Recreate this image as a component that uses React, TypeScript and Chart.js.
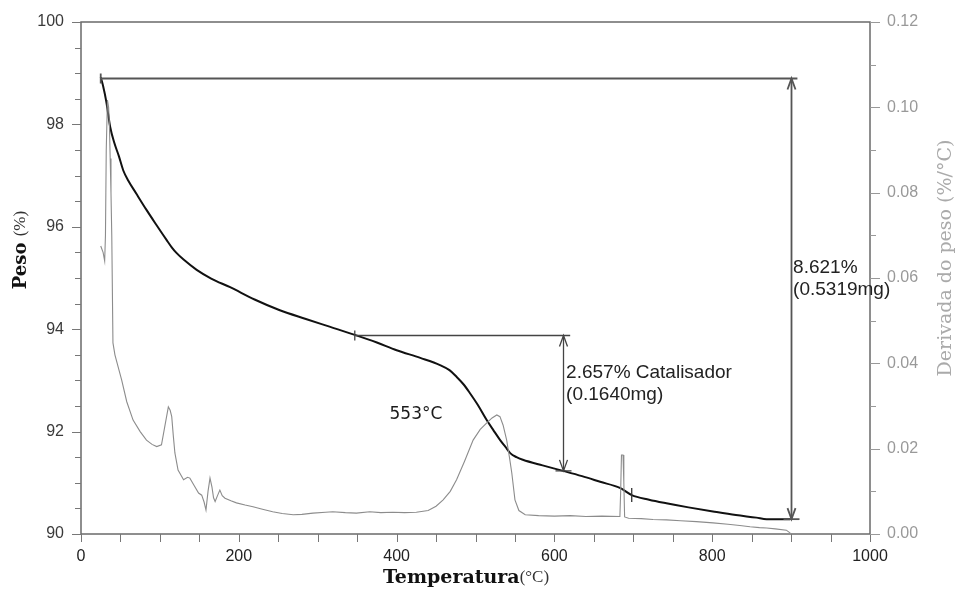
import { useEffect, useRef } from "react";
import { Chart, registerables } from "chart.js";

Chart.register(...registerables);

// Curva termogravimétrica (peso %, eixo esquerdo)
const temperaturaTG = [
  25, 28, 32, 37, 42, 48, 53.6, 60, 70, 83, 95, 108.6, 115, 121, 130, 146.6, 165, 189, 220, 252,
  285, 315, 347, 375, 400, 430, 455, 467, 476, 485, 493, 503, 514, 523, 531, 538, 544, 552, 560,
  585, 611, 635, 658, 683, 698, 720, 742, 770, 801, 830, 856, 869, 899,
];
const pesoTG = [
  98.92, 98.75, 98.45, 97.95, 97.65, 97.38, 97.1, 96.9, 96.65, 96.33, 96.05, 95.74, 95.6, 95.49,
  95.36, 95.16, 94.99, 94.82, 94.58, 94.37, 94.2, 94.05, 93.89, 93.74, 93.59, 93.44, 93.3, 93.2,
  93.07, 92.92, 92.75, 92.52, 92.23, 92.02, 91.84, 91.7, 91.58, 91.5, 91.45, 91.34, 91.233, 91.13,
  91.02, 90.9, 90.76, 90.67, 90.6, 90.52, 90.44, 90.37, 90.32, 90.29, 90.29,
];

// Derivada do peso (%/°C, eixo direito)
const temperaturaDTG = [
  25, 28, 30, 31, 32, 33.5, 35, 36, 37, 38, 39, 40.5, 43, 48, 51.5, 58, 66, 75, 83, 90, 96, 102,
  106, 110.7, 113, 115, 117, 119, 123, 130, 135, 138, 143, 149, 153, 156, 158.4, 161, 163.5, 166,
  168, 170, 173, 176, 179, 182.5, 190, 197, 208, 218, 230, 243, 255, 269, 280, 294, 310, 319, 335,
  349, 366, 380, 395, 410, 425, 440, 450, 459, 468, 476, 486, 497, 506, 514, 521, 527, 531, 535,
  539.5, 543, 546, 550, 555, 563, 580, 600, 620, 640, 660, 683, 684, 685, 687, 688, 689, 694, 710,
  725, 742, 760, 780, 801, 820, 835, 848, 860, 869, 880, 894, 899,
];
const derivadaDTG = [
  0.0675, 0.066, 0.064, 0.07, 0.09, 0.1017, 0.1, 0.096, 0.088, 0.08, 0.07, 0.0448, 0.042, 0.0385,
  0.0361, 0.031, 0.0267, 0.024, 0.022, 0.021, 0.0205, 0.0209, 0.025, 0.0298, 0.029, 0.0275, 0.023,
  0.019, 0.015, 0.0127, 0.0133, 0.0131, 0.0115, 0.0096, 0.0091, 0.0075, 0.0056, 0.01, 0.0131,
  0.011, 0.0085, 0.0076, 0.009, 0.0103, 0.009, 0.0084, 0.0078, 0.0073, 0.0068, 0.0064, 0.0058,
  0.0052, 0.0048, 0.0045, 0.0046, 0.0049, 0.0051, 0.0052, 0.005, 0.0049, 0.0052, 0.005, 0.0051,
  0.005, 0.0051, 0.0055, 0.0065, 0.008, 0.01, 0.0127, 0.017, 0.022, 0.0245, 0.026, 0.0272, 0.0279,
  0.0275, 0.0255, 0.022, 0.018, 0.0143, 0.008, 0.0055, 0.0045, 0.0043, 0.0042, 0.0043, 0.0041,
  0.0042, 0.0041, 0.01, 0.0185, 0.0185, 0.012, 0.004, 0.0037, 0.0036, 0.0034, 0.0033, 0.0031,
  0.0029, 0.0026, 0.0023, 0.002, 0.0017, 0.0015, 0.0014, 0.0012, 0.0009, 0.0002,
];

// Medidas de perda de massa: base horizontal, seta vertical, fim da base
const perdaTotal = { inicioT: 25, setaT: 900, fimT: 908, topo: 98.911, base: 90.29 };
const perdaCatalisador = { inicioT: 347, setaT: 611, fimT: 620, topo: 93.89, base: 91.233 };
const marcadorT = [698];
const marcadorPeso = [90.76];

const rotuloTotal = ["8.621%", "(0.5319mg)"];
const rotuloCatalisador = ["2.657% Catalisador", "(0.1640mg)"];
const rotuloPico = "553°C";

const SANS = '"Liberation Sans", Arial, sans-serif';
const SERIF = '"DejaVu Serif", "Liberation Serif", serif';

function drawParts(
  ctx: CanvasRenderingContext2D,
  parts: { text: string; font: string; color: string }[],
  cx: number,
  cy: number
) {
  let total = 0;
  const widths = parts.map((p) => {
    ctx.font = p.font;
    const w = ctx.measureText(p.text).width;
    total += w;
    return w;
  });
  let x = cx - total / 2;
  ctx.textBaseline = "middle";
  ctx.textAlign = "left";
  parts.forEach((p, i) => {
    ctx.font = p.font;
    ctx.fillStyle = p.color;
    ctx.fillText(p.text, x, cy);
    x += widths[i];
  });
}

function arrowHead(ctx: CanvasRenderingContext2D, x: number, y: number, dir: number) {
  ctx.beginPath();
  ctx.moveTo(x - 4, y - dir * 11);
  ctx.lineTo(x, y);
  ctx.lineTo(x + 4, y - dir * 11);
  ctx.stroke();
}

const decorPlugin = {
  id: "tgaDecor",
  beforeDatasetsDraw(chart: any) {
    const { ctx, chartArea: a, scales } = chart;
    ctx.save();
    ctx.strokeStyle = "#6a6a6a";
    ctx.lineWidth = 1.5;
    ctx.strokeRect(a.left, a.top, a.right - a.left, a.bottom - a.top);

    ctx.lineWidth = 1;
    ctx.strokeStyle = "#777";
    // eixo x
    scales.x.ticks.forEach((t: any) => {
      const px = Math.round(scales.x.getPixelForValue(t.value)) + 0.5;
      ctx.beginPath();
      ctx.moveTo(px, a.bottom);
      ctx.lineTo(px, a.bottom + 8);
      ctx.stroke();
    });
    // eixo esquerdo
    scales.y.ticks.forEach((t: any) => {
      const py = Math.round(scales.y.getPixelForValue(t.value)) + 0.5;
      const major = Math.abs(t.value / 2 - Math.round(t.value / 2)) < 1e-6;
      ctx.beginPath();
      ctx.moveTo(a.left, py);
      ctx.lineTo(a.left - (major ? 9 : 6), py);
      ctx.stroke();
    });
    // eixo direito
    ctx.strokeStyle = "#999";
    scales.y1.ticks.forEach((t: any) => {
      const py = Math.round(scales.y1.getPixelForValue(t.value)) + 0.5;
      const major = Math.round(t.value * 100) % 2 === 0;
      ctx.beginPath();
      ctx.moveTo(a.right, py);
      ctx.lineTo(a.right + (major ? 10 : 6), py);
      ctx.stroke();
    });
    ctx.restore();
  },
  afterDatasetsDraw(chart: any) {
    const { ctx, scales } = chart;
    const xs = scales.x;
    const ys = scales.y;
    ctx.save();

    const medida = (m: typeof perdaTotal, cor: string, lw: number) => {
      const x0 = xs.getPixelForValue(m.inicioT);
      const xa = Math.round(xs.getPixelForValue(m.setaT)) + 0.5;
      const x1 = xs.getPixelForValue(m.fimT);
      const yt = Math.round(ys.getPixelForValue(m.topo)) + 0.5;
      const yb = ys.getPixelForValue(m.base);
      ctx.strokeStyle = cor;
      ctx.lineWidth = lw;
      ctx.beginPath();
      ctx.moveTo(x0, yt);
      ctx.lineTo(x1, yt);
      ctx.stroke();
      ctx.beginPath();
      ctx.moveTo(x0, yt - 5);
      ctx.lineTo(x0, yt + 5);
      ctx.stroke();
      ctx.beginPath();
      ctx.moveTo(xa, yt);
      ctx.lineTo(xa, yb);
      ctx.stroke();
      arrowHead(ctx, xa, yt, -1);
      arrowHead(ctx, xa, yb, 1);
      ctx.beginPath();
      ctx.moveTo(xa - 8, yb);
      ctx.lineTo(xa + 8, yb);
      ctx.stroke();
    };
    medida(perdaTotal, "#555", 1.8);
    medida(perdaCatalisador, "#444", 1.3);

    ctx.strokeStyle = "#333";
    ctx.lineWidth = 1.3;
    marcadorT.forEach((t, i) => {
      const px = xs.getPixelForValue(t);
      const py = ys.getPixelForValue(marcadorPeso[i]);
      ctx.beginPath();
      ctx.moveTo(px, py - 7);
      ctx.lineTo(px, py + 7);
      ctx.stroke();
    });

    ctx.fillStyle = "#222";
    ctx.font = `19px ${SANS}`;
    ctx.textAlign = "left";
    ctx.textBaseline = "alphabetic";
    const xt = xs.getPixelForValue(perdaTotal.setaT) + 2;
    ctx.fillText(rotuloTotal[0], xt, ys.getPixelForValue(95.1));
    ctx.fillText(rotuloTotal[1], xt, ys.getPixelForValue(94.67));
    const xc = xs.getPixelForValue(perdaCatalisador.setaT) + 3;
    ctx.fillText(rotuloCatalisador[0], xc, ys.getPixelForValue(93.05));
    ctx.fillText(rotuloCatalisador[1], xc, ys.getPixelForValue(92.62));

    ctx.font = `17px "DejaVu Sans", sans-serif`;
    ctx.fillStyle = "#1a1a1a";
    ctx.fillText(rotuloPico, xs.getPixelForValue(391), ys.getPixelForValue(92.25));
    ctx.restore();
  },
  afterDraw(chart: any) {
    const { ctx } = chart;
    ctx.save();
    drawParts(
      ctx,
      [
        { text: "Temperatura", font: `bold 19px ${SERIF}`, color: "#111" },
        { text: "(°C)", font: `17px "Liberation Serif", serif`, color: "#333" },
      ],
      466,
      578
    );
    ctx.translate(21, 250);
    ctx.rotate(-Math.PI / 2);
    drawParts(
      ctx,
      [
        { text: "Peso ", font: `bold 18px ${SERIF}`, color: "#111" },
        { text: "(%)", font: `17px "Liberation Serif", serif`, color: "#333" },
      ],
      0,
      0
    );
    ctx.restore();
    ctx.save();
    ctx.translate(946, 258);
    ctx.rotate(-Math.PI / 2);
    drawParts(
      ctx,
      [{ text: "Derivada do peso (%/°C)", font: `19px ${SERIF}`, color: "#aaa" }],
      0,
      0
    );
    ctx.restore();
  },
};

export default function App() {
  const canvasRef = useRef<HTMLCanvasElement | null>(null);

  useEffect(() => {
    document.body.style.margin = "0";
    const canvas = canvasRef.current;
    if (!canvas) return;

    const chart = new Chart(canvas, {
      type: "scatter",
      data: {
        datasets: [
          {
            label: "Derivada do peso",
            data: temperaturaDTG.map((t, i) => ({ x: t, y: derivadaDTG[i] })),
            yAxisID: "y1",
            showLine: true,
            borderColor: "#8c8c8c",
            borderWidth: 1.1,
            pointRadius: 0,
            tension: 0,
          },
          {
            label: "Peso",
            data: temperaturaTG.map((t, i) => ({ x: t, y: pesoTG[i] })),
            yAxisID: "y",
            showLine: true,
            borderColor: "#111",
            borderWidth: 2,
            pointRadius: 0,
            cubicInterpolationMode: "monotone",
          },
        ],
      },
      options: {
        animation: false,
        responsive: false,
        devicePixelRatio: 1,
        layout: { padding: { top: 22, left: 0, right: 0, bottom: 0 } },
        plugins: { legend: { display: false }, tooltip: { enabled: false } },
        scales: {
          x: {
            type: "linear",
            min: 0,
            max: 1000,
            afterFit: (s: any) => {
              s.height = 63;
            },
            border: { display: false },
            grid: { display: false, drawTicks: true, tickLength: 8 },
            ticks: {
              stepSize: 50,
              autoSkip: false,
              maxRotation: 0,
              padding: 5,
              color: "#222",
              font: { family: SANS, size: 16 },
              callback: (v: any) => (Number(v) % 200 === 0 ? String(v) : ""),
            },
          },
          y: {
            type: "linear",
            position: "left",
            min: 90,
            max: 100,
            afterFit: (s: any) => {
              s.width = 81;
            },
            border: { display: false },
            grid: { display: false, drawTicks: true, tickLength: 8 },
            ticks: {
              stepSize: 0.5,
              autoSkip: false,
              padding: 9,
              color: "#3a3a3a",
              font: { family: SANS, size: 16 },
              callback: (v: any) => (Number(v) % 2 === 0 ? String(v) : ""),
            },
          },
          y1: {
            type: "linear",
            position: "right",
            min: 0,
            max: 0.12,
            afterFit: (s: any) => {
              s.width = 89;
            },
            border: { display: false },
            grid: { display: false, drawTicks: true, tickLength: 8 },
            ticks: {
              stepSize: 0.01,
              autoSkip: false,
              padding: 9,
              color: "#999",
              font: { family: SANS, size: 16 },
              callback: (v: any) =>
                Math.round(Number(v) * 100) % 2 === 0 ? Number(v).toFixed(2) : "",
            },
          },
        },
      } as any,
      plugins: [decorPlugin],
    });

    return () => chart.destroy();
  }, []);

  return (
    <div style={{ position: "absolute", left: 0, top: 0, width: 959, height: 597, background: "#fff" }}>
      <canvas ref={canvasRef} width={959} height={597} style={{ display: "block" }} />
    </div>
  );
}
